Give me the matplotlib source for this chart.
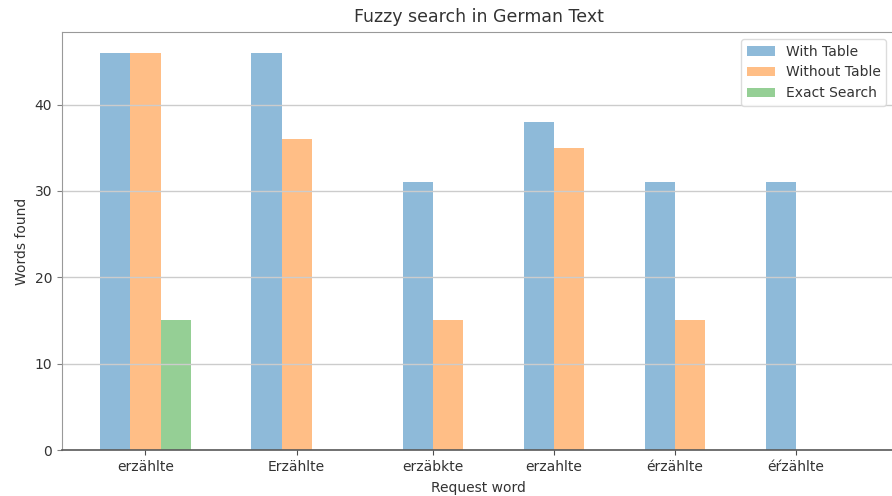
#!/usr/bin/env python3
"""fuzzy search in german text: words found per request word, with/without table."""

import matplotlib
matplotlib.use("Agg")
import matplotlib.pyplot as plt
import numpy as np

# data
words = ["erzählte", "Erzählte", "erzäbkte", "erzahlte", "érzählte", "éŕzählte"]
with_table = [46, 46, 31, 38, 31, 31]
without_table = [46, 36, 15, 35, 15, 0]
exact_search = [15, 0, 0, 0, 0, 0]

# layout (group spacing in the original is uneven)
group_x = np.array([0.0, 1.25, 2.5, 3.5, 4.5, 5.5])
tick_x = [0.375, 1.625, 2.75, 3.75, 4.75, 5.75]
w = 0.25

fig = plt.figure(figsize=(8.92, 4.96), dpi=100)
ax = fig.add_axes([0.0695, 0.0927, 0.934, 0.8427])

series = [("With Table", with_table, "tab:blue"),
          ("Without Table", without_table, "tab:orange"),
          ("Exact Search", exact_search, "tab:green")]
for k, (label, vals, color) in enumerate(series):
    ax.bar(group_x + k * w, vals, width=w, align="edge", color=color,
           alpha=0.5, label=label)

ax.set_xticks(tick_x)
ax.set_xticklabels(words, fontsize=10, color="0.2")
ax.set_yticks([0, 10, 20, 30, 40])
ax.tick_params(axis="y", labelsize=10, labelcolor="0.2", color="0.5")
ax.tick_params(axis="x", color="0.3")
ax.set_xlim(-0.314, 6.57)
ax.set_ylim(0, 48.4)
ax.yaxis.grid(True, color="0.8", lw=1.0)

for side in ["left", "top", "right"]:
    ax.spines[side].set_color("0.6")
ax.spines["bottom"].set_color("0.35")
ax.spines["bottom"].set_linewidth(1.2)

ax.set_title("Fuzzy search in German Text", fontsize=12.5, color="0.2", pad=7)
ax.set_xlabel("Request word", fontsize=10, color="0.2", labelpad=5)
ax.set_ylabel("Words found", fontsize=10, color="0.2")
ax.legend(loc="upper right", fontsize=10, framealpha=0.9, edgecolor="0.85",
          bbox_to_anchor=(0.9975, 1.0), labelcolor="0.2")

plt.savefig("out.png", dpi=100)
plt.close()
